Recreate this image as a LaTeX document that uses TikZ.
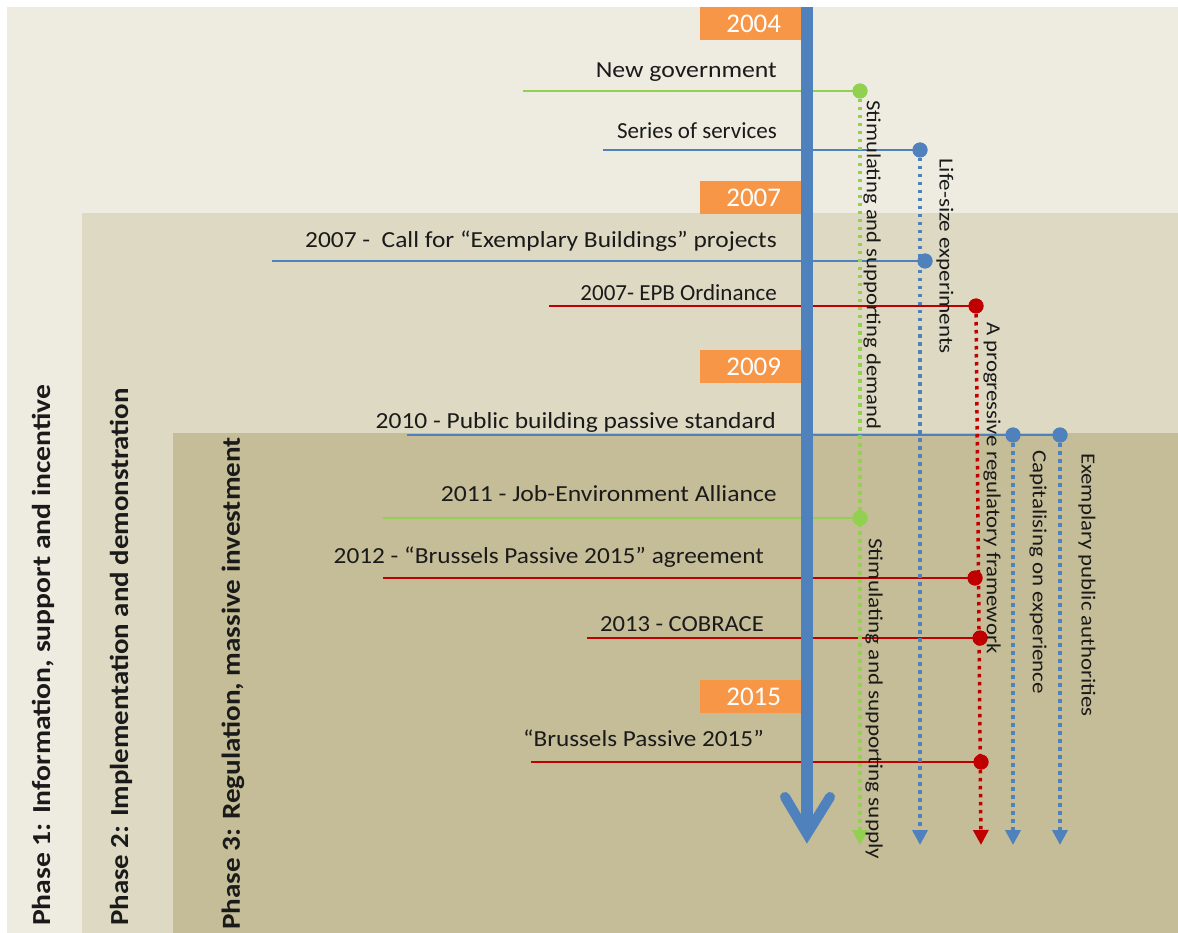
\documentclass[tikz,border=0pt]{standalone}
\usepackage{fontspec}
\setmainfont{Carlito}
\usetikzlibrary{arrows.meta}
\definecolor{bgA}{HTML}{EEECE1}
\definecolor{bgB}{HTML}{DDD9C3}
\definecolor{bgC}{HTML}{C4BD97}
\definecolor{yr}{HTML}{F79646}
\definecolor{cblue}{HTML}{4F81BD}
\definecolor{cgreen}{HTML}{92D050}
\definecolor{cred}{HTML}{C00000}
\definecolor{tx}{HTML}{1A1A1A}
\newcommand\sx[2]{\scalebox{#1}[1]{#2}}
\begin{document}
\begin{tikzpicture}[x=1pt,y=-1pt,
 yearbox/.style={fill=yr, text=white, minimum width=107pt, minimum height=33pt, inner sep=0pt, anchor=north west, font=\fontsize{27}{30}\selectfont},
 evt/.style={anchor=base east, inner sep=0pt, text=tx, font=\fontsize{23}{26}\selectfont},
 vlab/.style={rotate=-90, anchor=west, inner sep=0pt, text=tx, font=\fontsize{20}{24}\selectfont},
 plab/.style={rotate=90, anchor=west, inner sep=0pt, text=tx, font=\fontsize{26}{30}\selectfont\bfseries},
 hl/.style={line width=2pt},
 vl/.style={line width=3.5pt, dash pattern=on 3.5pt off 4.5pt, -{Triangle[width=15pt,length=15pt]}},
 dot/.style={circle, fill=#1, minimum size=15pt, inner sep=0pt},
]
\useasboundingbox (0,0) rectangle (1178,933);
\fill[white] (0,0) rectangle (1178,933);
% phases
\fill[bgA] (7,7) rectangle (1178,933);
\fill[bgB] (82,213) rectangle (1178,933);
\fill[bgC] (173,433) rectangle (1178,933);
\node[plab] (p1) at (43,926) {\sx{1.14}{Phase 1: Information, support and incentive}};
\node[plab] (p2) at (121,926) {\sx{1.11}{Phase 2: Implementation and demonstration}};
\node[plab] (p3) at (233,930) {\sx{1.12}{Phase 3: Regulation, massive investment}};
% years
\node[yearbox] (y2004) at (700,7) {2004};
\node[yearbox] (y2007) at (700,181) {2007};
\node[yearbox] (y2009) at (700,350) {2009};
\node[yearbox] (y2015) at (700,680) {2015};
% start points
\coordinate (s1) at (523,91);
\coordinate (s2) at (603,150);
\coordinate (s3) at (272,261);
\coordinate (s4) at (549,306);
\coordinate (s5) at (407,435);
\coordinate (s6) at (383,518);
\coordinate (s7) at (383,578);
\coordinate (s8) at (587,638);
\coordinate (s9) at (531,762);
% dots
\node[dot=cgreen] (d1) at (860,91) {};
\node[dot=cblue] (d2) at (920,150) {};
\node[dot=cblue] (d3) at (925,261) {};
\node[dot=cred] (d4) at (976,306) {};
\node[dot=cblue] (d5a) at (1013,435) {};
\node[dot=cblue] (d5b) at (1060,435) {};
\node[dot=cgreen] (d6) at (860,518) {};
\node[dot=cred] (d7) at (975,578) {};
\node[dot=cred] (d8) at (980,638) {};
\node[dot=cred] (d9) at (981,762) {};
% ends
\coordinate (e1) at (860,845);
\coordinate (e2) at (920,845);
\coordinate (e4) at (981,845);
\coordinate (e5a) at (1013,845);
\coordinate (e5b) at (1060,845);
% horizontal lines
\draw[hl, cgreen] (s1) -- (d1.center);
\draw[hl, cblue] (s2) -- (d2.center);
\draw[hl, cblue] (s3) -- (d3.center);
\draw[hl, cred] (s4) -- (d4.center);
\draw[hl, cblue] (s5) -- (d5b.center);
\draw[hl, cgreen] (s6) -- (d6.center);
\draw[hl, cred, line width=2.6pt] (s7) -- (d7.center);
\draw[hl, cred] (s8) -- (d8.center);
\draw[hl, cred] (s9) -- (d9.center);
% main axis
\coordinate (a1) at (807,7);
\coordinate (a2) at (807,834);
\coordinate (c1) at (785,797);
\coordinate (c2) at (830,797);
\draw[cblue, line width=12pt] (a1) -- (a2);
\draw[cblue, line width=10pt, line cap=round, line join=miter] (c1) -- (a2) -- (c2);
% vertical dotted arrows
\draw[vl, cgreen] (d1.center) -- (e1);
\draw[vl, cblue] (d2.center) -- (e2);
\draw[vl, cred] (d4.center) -- (e4);
\draw[vl, cblue] (d5a.center) -- (e5a);
\draw[vl, cblue] (d5b.center) -- (e5b);
% redraw dots on top
\foreach \n/\c in {d1/cgreen,d2/cblue,d3/cblue,d4/cred,d5a/cblue,d5b/cblue,d6/cgreen,d7/cred,d8/cred,d9/cred}
  \fill[\c] (\n) circle (7.5pt);
% event labels
\node[evt] (t1) at (777,78) {\sx{1.12}{New government}};
\node[evt] (t2) at (777,139) {Series of services};
\node[evt] (t3) at (777,248) {\sx{1.105}{2007 -\ \ Call for “Exemplary Buildings” projects}};
\node[evt] (t4) at (777,301) {2007- EPB Ordinance};
\node[evt] (t5) at (776,428) {\sx{1.108}{2010 - Public building passive standard}};
\node[evt] (t6) at (777,501) {\sx{1.116}{2011 - Job-Environment Alliance}};
\node[evt] (t7) at (764,563) {\sx{1.10}{2012 - “Brussels Passive 2015” agreement}};
\node[evt] (t8) at (764,631) {\sx{1.07}{2013 - COBRACE}};
\node[evt] (t9) at (764,746) {\sx{1.095}{“Brussels Passive 2015”}};
% vertical labels
\node[vlab] (v1) at (872,100) {\sx{1.13}{Stimulating and supporting demand}};
\node[vlab] (v2) at (945,158) {\sx{1.15}{Life-size experiments}};
\node[vlab] (v3) at (992,322) {\sx{1.14}{A progressive regulatory framework}};
\node[vlab] (v4) at (874,538) {\sx{1.16}{Stimulating and supporting supply}};
\node[vlab] (v5) at (1038,450) {\sx{1.15}{Capitalising on experience}};
\node[vlab] (v6) at (1087,453) {\sx{1.14}{Exemplary public authorities}};
\end{tikzpicture}
\end{document}
